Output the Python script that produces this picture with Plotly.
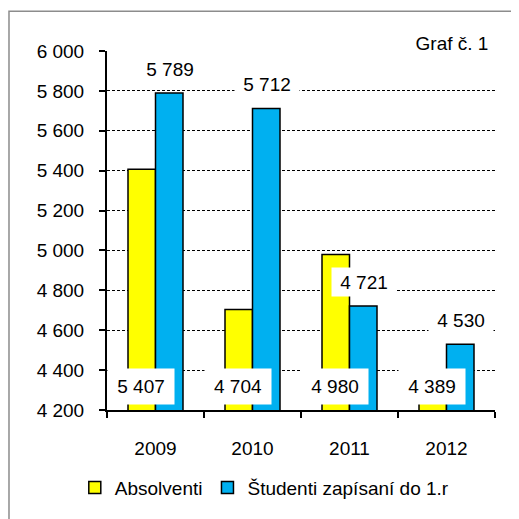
import plotly.graph_objects as go

years = ["2009", "2010", "2011", "2012"]
absolventi = [5407, 4704, 4980, 4389]
studenti = [5789, 5712, 4721, 4530]
y_ticks = [4200, 4400, 4600, 4800, 5000, 5200, 5400, 5600, 5800, 6000]
y_ticktext = ["4 200", "4 400", "4 600", "4 800", "5 000", "5 200", "5 400", "5 600", "5 800", "6 000"]
series_names = ["Absolventi", "Študenti zapísaní do 1.r"]
chart_label = "Graf č. 1"

FONT = "Liberation Sans, Arial, sans-serif"
FS = 19


def fmt(v):
    return f"{v:,}".replace(",", " ")


fig = go.Figure()
fig.add_trace(go.Bar(x=years, y=absolventi, name=series_names[0],
                     marker=dict(color="#FFFF00", line=dict(color="black", width=1.5))))
fig.add_trace(go.Bar(x=years, y=studenti, name=series_names[1],
                     marker=dict(color="#00B0F0", line=dict(color="black", width=1.5))))

annotations = []
for i, v in enumerate(absolventi):
    annotations.append(dict(x=i, y=y_ticks[0], xref="x", yref="y", text=fmt(v), showarrow=False,
                            xshift=-15, yshift=24, yanchor="middle", bgcolor="white",
                            width=54, height=23, borderpad=6, font=dict(family=FONT, size=FS, color="black")))
for i, v in enumerate(studenti):
    annotations.append(dict(x=i, y=v, xref="x", yref="y", text=fmt(v), showarrow=False,
                            xshift=14, yshift=24, yanchor="middle", bgcolor="white",
                            width=58, height=22, borderpad=3, font=dict(family=FONT, size=FS, color="black")))
annotations.append(dict(x=0.89, y=1.022, xref="paper", yref="paper", text=chart_label, showarrow=False,
                        xanchor="center", yanchor="middle", bgcolor="white", width=80, height=22, borderpad=4,
                        font=dict(family=FONT, size=FS, color="black")))

fig.update_layout(
    width=511, height=511,
    margin=dict(l=99, r=24, t=43, b=107),
    paper_bgcolor="white", plot_bgcolor="white",
    barmode="group", bargap=0.433, bargroupgap=0,
    font=dict(family=FONT, size=FS, color="black"),
    showlegend=True,
    legend=dict(orientation="h", x=-0.083, xanchor="left", y=-0.216, yanchor="middle",
                font=dict(family=FONT, size=FS, color="black"), itemclick=False),
    annotations=annotations,
    shapes=[dict(type="rect", xref="paper", yref="paper", x0=-0.2526, y0=-0.5, x1=1.2, y1=1.1108,
                 line=dict(color="#8c8c8c", width=1.5), layer="below")],
)
fig.update_xaxes(type="category", range=[-0.5, len(years) - 0.5], showline=True, linecolor="black",
                 linewidth=2, ticks="outside", tickson="boundaries", ticklen=6, tickcolor="black",
                 tickwidth=2, showgrid=False, ticklabelstandoff=20, tickangle=0,
                 tickfont=dict(family=FONT, size=FS, color="black"))
fig.update_yaxes(range=[y_ticks[0], y_ticks[-1]], tickvals=y_ticks, ticktext=y_ticktext,
                 showline=True, linecolor="black", linewidth=2, ticks="outside", ticklen=6,
                 tickcolor="black", tickwidth=2, showgrid=True, gridcolor="black", gridwidth=1,
                 griddash="3px,2px", zeroline=False, ticklabelstandoff=11,
                 tickfont=dict(family=FONT, size=FS, color="black"))

fig.write_html("out.html")
